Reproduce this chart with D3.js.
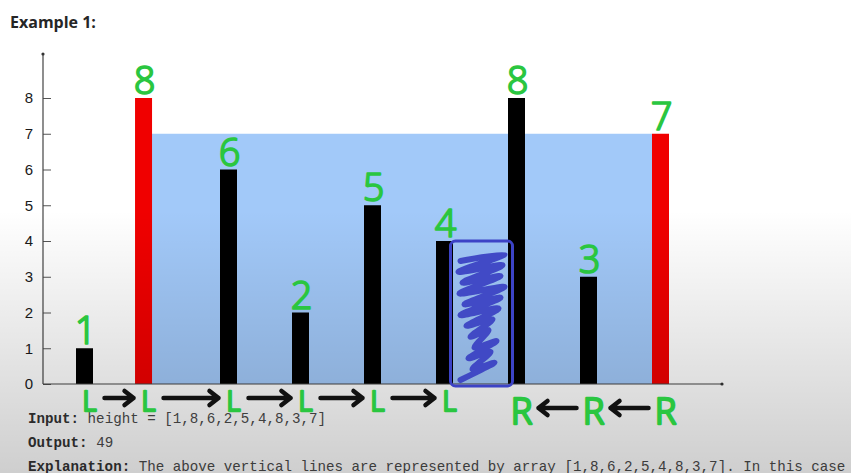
<!DOCTYPE html>
<html>
<head>
<meta charset="utf-8">
<script src="https://cdn.jsdelivr.net/npm/d3@7"></script>
<style>
  html, body { margin: 0; padding: 0; background: #ffffff; }
  svg { display: block; }
</style>
</head>
<body>
<svg id="chart" width="851" height="473"></svg>
<script>
// ---------- data ----------
const heights = [1, 8, 6, 2, 5, 4, 8, 3, 7];
const barPos = [1, 1.82, 3, 4, 5, 6, 7, 8, 9];          // category position of each line
const highlighted = [false, true, false, false, false, false, false, false, true];
const yTicks = [0, 1, 2, 3, 4, 5, 6, 7, 8];
const pointerMarks = ["L", "L", "L", "L", "L", "L", "R", "R", "R"];
const waterLeft = 1;   // index of left wall
const waterRight = 8;  // index of right wall
const title = "Example 1:";
const inputLine = ["Input: ", "height = [1,8,6,2,5,4,8,3,7]"];
const outputLine = ["Output: ", "49"];
const explLine = ["Explanation: ", "The above vertical lines are represented by array [1,8,6,2,5,4,8,3,7]. In this case"];

// ---------- setup ----------
const svg = d3.select("#chart");
const W = 851, H = 473;
const x = d3.scaleLinear().domain([1, 9]).range([84.5, 660.5]);
const y = d3.scaleLinear().domain([0, 8]).range([384, 98]);
const barW = 17;
const green = "#2ac640";

const defs = svg.append("defs");
const grad = defs.append("linearGradient").attr("id", "shade")
  .attr("gradientUnits", "userSpaceOnUse").attr("x1", 0).attr("y1", 210).attr("x2", 0).attr("y2", H);
grad.append("stop").attr("offset", 0).attr("stop-color", "#000").attr("stop-opacity", 0);
grad.append("stop").attr("offset", 1).attr("stop-color", "#000").attr("stop-opacity", 0.19);

// title
svg.append("text").attr("x", 10).attr("y", 28)
  .attr("font-family", "'Open Sans', 'Noto Sans', sans-serif").attr("font-weight", 700)
  .attr("font-size", 16).attr("fill", "#262626").text(title);

// water area
const wl = x(barPos[waterLeft]) + barW / 2;
const wr = x(barPos[waterRight]) - barW / 2;
const wh = Math.min(heights[waterLeft], heights[waterRight]);
svg.append("rect").attr("x", wl).attr("y", y(wh)).attr("width", wr - wl).attr("height", y(0) - y(wh))
  .attr("fill", "#a2c9f9");

// bars
svg.append("g").selectAll("rect").data(heights).join("rect")
  .attr("x", (d, i) => x(barPos[i]) - barW / 2)
  .attr("y", d => y(d))
  .attr("width", barW)
  .attr("height", d => y(0) - y(d))
  .attr("fill", (d, i) => highlighted[i] ? "#f00000" : "#000000");

// axes
const axisG = svg.append("g").attr("transform", "translate(43,0)");
const yAxis = d3.axisLeft(y).tickValues(yTicks).tickSizeInner(-8).tickSizeOuter(0).tickPadding(10)
  .tickFormat(d3.format("d"));
axisG.call(yAxis);
axisG.select(".domain").remove();
axisG.selectAll(".tick line").attr("stroke", "#555").attr("stroke-width", 1);
axisG.selectAll(".tick text").attr("font-family", "'Liberation Sans', Arial, sans-serif")
  .attr("font-size", 15).attr("fill", "#1a1a1a");
// axis lines
svg.append("line").attr("x1", 43).attr("x2", 43).attr("y1", 54).attr("y2", y(0))
  .attr("stroke", "#444").attr("stroke-width", 1.2);
svg.append("line").attr("x1", 43).attr("x2", 722).attr("y1", y(0)).attr("y2", y(0))
  .attr("stroke", "#444").attr("stroke-width", 1.2);
svg.append("circle").attr("cx", 43).attr("cy", 54).attr("r", 1.6).attr("fill", "#333");
svg.append("circle").attr("cx", 722).attr("cy", y(0)).attr("r", 1.6).attr("fill", "#333");

// bottom text
const mono = "'Liberation Mono', 'DejaVu Sans Mono', monospace";
[[inputLine, 423], [outputLine, 447], [explLine, 471]].forEach(([parts, yy]) => {
  const t = svg.append("text").attr("x", 28).attr("y", yy)
    .attr("font-family", mono).attr("font-size", 14.2).attr("xml:space", "preserve");
  t.append("tspan").attr("font-weight", 700).attr("fill", "#333").text(parts[0]);
  t.append("tspan").attr("fill", "#4a4a4a").text(parts[1]);
});

// video shading overlay
svg.append("rect").attr("x", 0).attr("y", 0).attr("width", W).attr("height", H)
  .attr("fill", "url(#shade)").attr("pointer-events", "none");

// ---------- handwritten annotations ----------
const hand = svg.append("g");
// numbers above bars
hand.selectAll("text.num").data(heights).join("text").attr("class", "num")
  .attr("x", (d, i) => x(barPos[i]) + 1)
  .attr("y", d => y(d) - 4)
  .attr("text-anchor", "middle")
  .attr("font-family", "'Noto Sans', sans-serif").attr("font-size", 38).attr("font-weight", 300)
  .attr("fill", green).attr("stroke", green).attr("stroke-width", 1.6).attr("stroke-linejoin", "round")
  .text(d => d);

// L / R pointer letters
hand.selectAll("text.ptr").data(pointerMarks).join("text").attr("class", "ptr")
  .attr("x", (d, i) => x(barPos[i]) + 5)
  .attr("y", d => d === "L" ? 411 : 424)
  .attr("text-anchor", "middle")
  .attr("font-family", "'Noto Sans', sans-serif")
  .attr("font-size", d => d === "L" ? 27 : 36).attr("font-weight", 300)
  .attr("fill", green).attr("stroke", green).attr("stroke-width", 2.4).attr("stroke-linejoin", "round")
  .text(d => d);

// arrows between pointer moves
const arrows = [];
for (let i = 0; i < pointerMarks.length - 1; i++) {
  if (pointerMarks[i] === "L" && pointerMarks[i + 1] === "L") arrows.push({ from: i, to: i + 1, dir: 1 });
  if (pointerMarks[i] === "R" && pointerMarks[i + 1] === "R") arrows.push({ from: i, to: i + 1, dir: -1 });
}
arrows.forEach(a => {
  const xa = x(barPos[a.from]) + 5, xb = x(barPos[a.to]) + 5;
  const gap = a.dir > 0 ? 15 : 17;
  const x0 = xa + gap, x1 = xb - gap;
  const yy = a.dir > 0 ? 398 : 408;
  const head = a.dir > 0 ? x1 : x0;
  const s = a.dir > 0 ? -1 : 1;
  hand.append("path")
    .attr("d", `M${x0},${yy}L${x1},${yy}M${head + s * 9},${yy - 7}L${head},${yy}L${head + s * 9},${yy + 7}`)
    .attr("fill", "none").attr("stroke", "#111").attr("stroke-width", 4.5)
    .attr("stroke-linecap", "round").attr("stroke-linejoin", "round");
});

// blue scribbled box between the 4 and the 8
const bx0 = x(barPos[5]) + 6, bx1 = x(barPos[6]) - 4;
const by0 = y(heights[5]), by1 = y(0) + 2;
hand.append("rect").attr("x", bx0).attr("y", by0).attr("width", bx1 - bx0).attr("height", by1 - by0)
  .attr("rx", 5).attr("fill", "none").attr("stroke", "#3c43c6").attr("stroke-width", 3);
const zig = [];
const steps = 22;
const insetL = [10, 16, 8, 20, 12, 24, 9, 18, 14, 22, 10];
const insetR = [14, 8, 20, 10, 24, 12, 16, 8, 22, 12, 18];
for (let k = 0; k <= steps; k++) {
  const t = k / steps;
  const yy = by0 + 14 + t * (by1 - by0 - 26) + (k % 2 === 0 ? 6 : -6);
  const xx = k % 2 === 0 ? bx0 + insetL[k % insetL.length] : bx1 - insetR[k % insetR.length];
  zig.push([xx, yy]);
}
hand.append("path").attr("d", d3.line().curve(d3.curveCatmullRom)(zig))
  .attr("fill", "none").attr("stroke", "#3a40c2").attr("stroke-width", 6)
  .attr("stroke-linecap", "round").attr("stroke-linejoin", "round").attr("opacity", 0.92);
</script>
</body>
</html>
